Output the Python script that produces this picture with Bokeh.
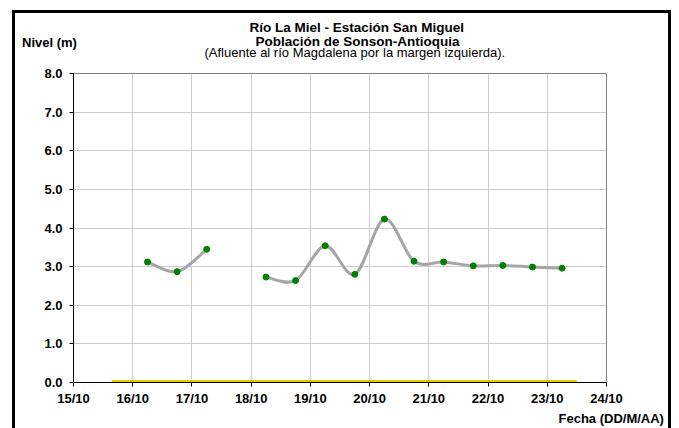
import numpy as np
import pandas as pd
from bokeh.plotting import figure
from bokeh.models import (Range1d, FixedTicker, DatetimeTickFormatter, NumeralTickFormatter,
                          Title, ColumnDataSource)
from bokeh.embed import file_html
from bokeh.resources import INLINE

# ---------------- data ----------------
fechas = ["2011-10-16 06:00", "2011-10-16 18:00", "2011-10-17 06:00", "2011-10-17 18:00",
          "2011-10-18 06:00", "2011-10-18 18:00", "2011-10-19 06:00", "2011-10-19 18:00",
          "2011-10-20 06:00", "2011-10-20 18:00", "2011-10-21 06:00", "2011-10-21 18:00",
          "2011-10-22 06:00", "2011-10-22 18:00", "2011-10-23 06:00"]
nivel = [3.12, 2.87, 3.45, None, 2.73, 2.64, 3.54, 2.80, 4.23, 3.14, 3.12, 3.02, 3.03, 2.99, 2.96]

fechas_ref = ["2011-10-15 15:30", "2011-10-23 12:00"]
nivel_ref = [0.0, 0.0]

dias_ticks = ["2011-10-15", "2011-10-16", "2011-10-17", "2011-10-18", "2011-10-19",
              "2011-10-20", "2011-10-21", "2011-10-22", "2011-10-23", "2011-10-24"]
nivel_ticks = [0, 1, 2, 3, 4, 5, 6, 7, 8]

titulo = "Río La Miel  - Estación San Miguel"
subtitulo = "Población de Sonson-Antioquia"
nota = "(Afluente al río Magdalena por la margen izquierda)."
eje_y = "Nivel (m)"
eje_x = "Fecha (DD/M/AA)"


def to_ms(vals):
    return ((pd.to_datetime(vals) - pd.Timestamp("1970-01-01")) / pd.Timedelta(milliseconds=1)).to_numpy(dtype=float)


x = to_ms(fechas)
y = np.array([np.nan if v is None else v for v in nivel], dtype=float)

# smoothed line (Catmull-Rom as cubic Bezier, per continuous segment)
bz = {k: [] for k in ["x0", "y0", "x1", "y1", "cx0", "cy0", "cx1", "cy1"]}
valid = ~np.isnan(y)
segs, cur = [], []
for i, ok in enumerate(valid):
    if ok:
        cur.append(i)
    elif cur:
        segs.append(cur); cur = []
if cur:
    segs.append(cur)
for seg in segs:
    px, py = x[seg], y[seg]
    n = len(seg)
    for i in range(n - 1):
        i0 = max(i - 1, 0); i3 = min(i + 2, n - 1)
        bz["x0"].append(px[i]); bz["y0"].append(py[i])
        bz["x1"].append(px[i + 1]); bz["y1"].append(py[i + 1])
        bz["cx0"].append(px[i] + (px[i + 1] - px[i0]) / 6.0)
        bz["cy0"].append(py[i] + (py[i + 1] - py[i0]) / 6.0)
        bz["cx1"].append(px[i + 1] - (px[i3] - px[i]) / 6.0)
        bz["cy1"].append(py[i + 1] - (py[i3] - py[i]) / 6.0)

FONT = "Liberation Sans"
W, H = 679, 428
ML, MR, MT, MB = 73, 73, 73, 44

p = figure(width=W, height=H, output_backend="svg", toolbar_location=None,
           x_axis_type="datetime",
           x_range=Range1d(to_ms(dias_ticks)[0], to_ms(dias_ticks)[-1]),
           y_range=Range1d(0, 8),
           min_border_left=ML, min_border_right=MR, min_border_top=MT, min_border_bottom=MB)
p.background_fill_color = "white"
p.border_fill_color = None
p.outline_line_color = "#808080"
p.outline_line_width = 1
# outer chart border drawn with CSS inset shadows (left, top and right edges; bottom is off the page)
p.styles = {"background-color": "white",
            "box-shadow": ("inset 12px 10px 0 0 white, inset -8px 0 0 0 white, "
                           "inset 15px 13px 0 0 black, inset -11px 0 0 0 black")}

# yellow reference series
p.line(x=to_ms(fechas_ref), y=nivel_ref, line_color="#e6c800", line_width=5)

# smoothed level line
p.bezier(source=ColumnDataSource(bz), x0="x0", y0="y0", x1="x1", y1="y1",
         cx0="cx0", cy0="cy0", cx1="cx1", cy1="cy1",
         line_color="#a6a6a6", line_width=3, line_cap="round")
p.scatter(x=x, y=y, size=6, fill_color="#008000", line_color="#008000")

# axes
p.xaxis.ticker = FixedTicker(ticks=list(to_ms(dias_ticks)))
fmt = "%d/%m"
p.xaxis.formatter = DatetimeTickFormatter(microseconds=fmt, milliseconds=fmt, seconds=fmt, minsec=fmt,
                                          minutes=fmt, hourmin=fmt, hours=fmt, days=fmt, months=fmt,
                                          years=fmt)
p.yaxis.ticker = FixedTicker(ticks=nivel_ticks)
p.yaxis.formatter = NumeralTickFormatter(format="0.0")
for ax in (p.xaxis, p.yaxis):
    ax.axis_line_color = "black"
    ax.axis_line_width = 1
    ax.major_tick_line_color = "black"
    ax.major_tick_in = 0
    ax.major_tick_out = 4
    ax.minor_tick_line_color = None
    ax.major_label_text_font = FONT
    ax.major_label_text_font_style = "bold"
    ax.major_label_text_font_size = "13px"
    ax.major_label_text_color = "black"
p.xaxis.major_label_standoff = 4
p.yaxis.major_label_standoff = 7

p.xgrid.grid_line_color = "#cccccc"
p.ygrid.grid_line_color = "#cccccc"
p.xgrid.grid_line_width = 1
p.ygrid.grid_line_width = 1


# text rows in the side panels: row height ~ 2 + text height + standoff, text centred in its row
def row(text, size_px, bold, left_px, row_h, side="above"):
    t = Title(text=text, align="left", vertical_align="middle", offset=left_px - ML,
              text_font=FONT, text_font_size=f"{size_px}px",
              text_font_style="bold" if bold else "normal", text_color="black")
    s = row_h - 2 - 1.15 * size_px
    try:
        t.standoff = s
    except Exception:
        t.standoff = max(s, 0)
    p.add_layout(t, side)

# above the frame, nearest row first
row(" ", 2, False, 80, 13.5)                 # gap between the frame and the note
row(nota, 13, False, 204, 17)                # centre ~51
row(eje_y, 13, True, 21.5, 2)                # centre ~41.5
row(subtitulo, 13.5, True, 255, 2)           # centre ~39.5
row(titulo, 13.5, True, 249, 27)             # centre ~25
# below the x axis
row(eje_x, 13, True, 558, 20, side="below")

open("out.html", "w").write(file_html(p, INLINE))
